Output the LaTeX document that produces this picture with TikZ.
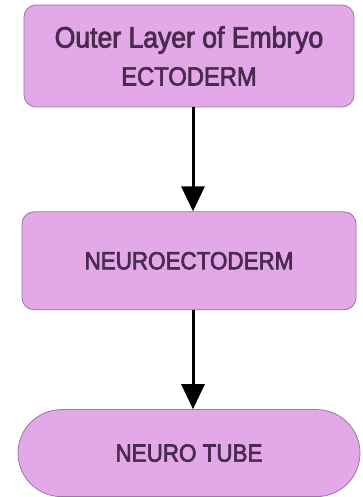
\documentclass[tikz,border=0pt]{standalone}
\usepackage{fontspec}
\setmainfont{Liberation Sans}
\newfontfamily\layerfont[FakeBold=2.6,FakeStretch=0.9]{Liberation Sans}
\usetikzlibrary{arrows.meta,positioning}
\definecolor{LayerFill}{HTML}{E2A8E8}
\definecolor{LayerEdge}{HTML}{9C76A2}
\definecolor{LayerText}{HTML}{4A2A4E}

\tikzset{
  layer/.style={draw=LayerEdge,fill=LayerFill,line width=0.8pt,rounded corners=12pt,
    inner sep=0pt,align=center,text=LayerText,font=\layerfont\fontsize{24.9}{38}\selectfont},
  flow/.style={-{Triangle[length=25pt,width=23pt]},line width=3pt,black}
}

\begin{document}
\begin{tikzpicture}[x=1pt,y=1pt]
  \useasboundingbox[fill=white] (0,0) rectangle (362,497);
  \node[layer,minimum width=330pt,minimum height=102pt] (ecto) at (189,441)
    {{\fontsize{29.5}{38}\selectfont Outer Layer of Embryo}\\{\fontsize{26.4}{38}\selectfont ECTODERM}};
  \node[layer,minimum width=334pt,minimum height=98pt,below=104pt of ecto] (neuroecto)
    {NEUROECTODERM};
  \node[layer,minimum width=342pt,minimum height=87pt,rounded corners=43.5pt,
    below=99pt of neuroecto] (tube) {NEURO TUBE};
  \draw[flow] ([xshift=4pt]ecto.south) -- ([xshift=4pt]neuroecto.north);
  \draw[flow] ([xshift=4pt]neuroecto.south) -- ([xshift=4pt]tube.north);
\end{tikzpicture}
\end{document}
